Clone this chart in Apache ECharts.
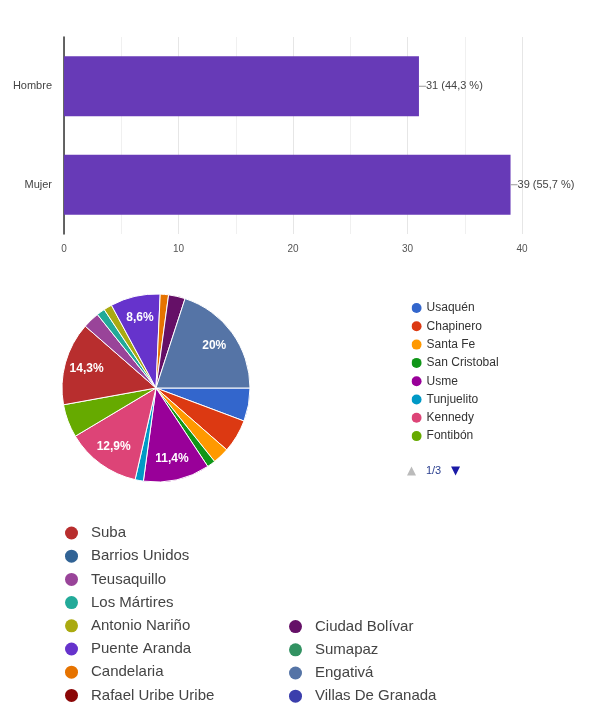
<!DOCTYPE html>
<html>
<head>
<meta charset="utf-8">
<script src="https://cdn.jsdelivr.net/npm/echarts@6/dist/echarts.min.js"></script>
<style>
html,body{margin:0;padding:0;background:#fff;}
#chart{width:595px;height:712px;}
</style>
</head>
<body>
<div id="chart"></div>
<script>
// ---- data ----
const barCategories = ['Hombre', 'Mujer'];
const barValues = [31, 39];
const barAxisMin = 0;
const barAxisMax = 40;
const barAxisStep = 10;

const districts = ['Usaquén', 'Chapinero', 'Santa Fe', 'San Cristobal', 'Usme', 'Tunjuelito',
  'Kennedy', 'Fontibón', 'Suba', 'Barrios Unidos', 'Teusaquillo', 'Los Mártires',
  'Antonio Nariño', 'Puente Aranda', 'Candelaria', 'Rafael Uribe Uribe', 'Ciudad Bolívar',
  'Sumapaz', 'Engativá', 'Villas De Granada'];
const districtCounts = [4, 4, 2, 1, 8, 1, 9, 4, 10, 0, 2, 1, 1, 6, 1, 0, 2, 0, 14, 0];

// ---- styles ----
const palette = ['#3366cc', '#dc3912', '#ff9900', '#109618', '#990099', '#0099c6', '#dd4477',
  '#66aa00', '#b82e2e', '#316395', '#994499', '#22aa99', '#aaaa11', '#6633cc', '#e67300',
  '#8b0707', '#651067', '#329262', '#5574a6', '#3b3eac'];
const FONT = '"Liberation Sans", Arial, sans-serif';

const barTotal = barValues.reduce((a, b) => a + b, 0);
const pieTotal = districtCounts.reduce((a, b) => a + b, 0);
function fmtPct(v, total) {
  const p = Math.round(v / total * 1000) / 10;
  return (p % 1 === 0 ? String(p) : p.toFixed(1)).replace('.', ',');
}

const pieData = districts.map((n, i) => ({
  name: n, value: districtCounts[i],
  itemStyle: { color: palette[i], borderColor: '#fff', borderWidth: districtCounts[i] > 0 ? 1 : 0 }
}));
const pieLabelData = districts.map((n, i) => ({ name: n, value: districtCounts[i] }));

const bottomLegendStyle = {
  orient: 'vertical', selectedMode: false, icon: 'circle', height: 200,
  itemWidth: 15, itemHeight: 13, itemGap: 8.2,
  itemStyle: { borderWidth: 0 },
  textStyle: { color: '#444', fontSize: 15, lineHeight: 14, fontFamily: FONT, padding: [0, 0, 0, 7] }
};

const chart = echarts.init(document.getElementById('chart'));
chart.setOption({
  animation: false,
  textStyle: { fontFamily: FONT },
  grid: { left: 64, right: 73, top: 37, bottom: 478 },
  xAxis: {
    type: 'value', min: barAxisMin, max: barAxisMax, interval: barAxisStep,
    axisLine: { show: false }, axisTick: { show: false },
    axisLabel: { color: '#555', fontSize: 10, margin: 10, fontFamily: FONT },
    splitLine: { show: true, lineStyle: { color: '#e6e6e6', width: 1 } },
    minorTick: { show: false, splitNumber: 2 },
    minorSplitLine: { show: true, lineStyle: { color: '#f0f0f0', width: 1 } }
  },
  yAxis: {
    type: 'category', data: barCategories, inverse: true,
    axisLine: { show: true, lineStyle: { color: '#333', width: 1.5 } },
    axisTick: { show: false },
    axisLabel: { color: '#444', fontSize: 11, margin: 12, fontFamily: FONT }
  },
  legend: [
    {
      type: 'scroll', orient: 'vertical', left: 402, top: 297, height: 174.5,
      data: districts, selectedMode: false, icon: 'circle',
      itemWidth: 10, itemHeight: 10, itemGap: 6.3,
      itemStyle: { borderWidth: 0 },
      textStyle: { color: '#333', fontSize: 12, lineHeight: 12, fontFamily: FONT },
      pageButtonGap: 20, pageButtonItemGap: 5,
      pageIcons: { vertical: ['M0,0L20,0L10,-20z', 'M0,0L20,0L10,20z M175,10L175,10'] },
      pageIconColor: '#1a1aa6', pageIconInactiveColor: '#bbb', pageIconSize: [79, 9],
      pageTextStyle: { color: '#2a3f8f', fontSize: 11, fontFamily: FONT }
    },
    Object.assign({ left: 60, top: 520.5, data: districts.slice(8, 16) }, bottomLegendStyle),
    Object.assign({ left: 284, top: 614.1, data: districts.slice(16) }, bottomLegendStyle)
  ],
  series: [
    {
      type: 'bar', data: barValues, barWidth: 60,
      itemStyle: { color: '#673ab7' },
      label: {
        show: true, position: 'right', distance: 0,
        color: '#444', fontSize: 11, fontFamily: FONT,
        formatter: p => '{ln|}' + p.value + ' (' + fmtPct(p.value, barTotal) + ' %)',
        rich: { ln: { width: 7, height: 1, backgroundColor: '#999' } }
      }
    },
    {
      type: 'pie', center: [156, 388], radius: 94, startAngle: 0, clockwise: true,
      data: pieData, label: { show: false }, labelLine: { show: false },
      emphasis: { disabled: true }
    },
    {
      type: 'pie', center: [156, 388], radius: [44, 94], startAngle: 0, clockwise: true,
      data: pieLabelData, silent: true, legendHoverLink: false,
      itemStyle: { color: 'rgba(0,0,0,0)', borderWidth: 0 },
      emphasis: { disabled: true },
      labelLine: { show: false },
      label: {
        show: true, position: 'inside', color: '#fff', fontSize: 12, fontWeight: 'bold', fontFamily: FONT,
        formatter: p => (p.value / pieTotal * 100 > 6 ? fmtPct(p.value, pieTotal) + '%' : '')
      }
    }
  ]
});
</script>
</body>
</html>
